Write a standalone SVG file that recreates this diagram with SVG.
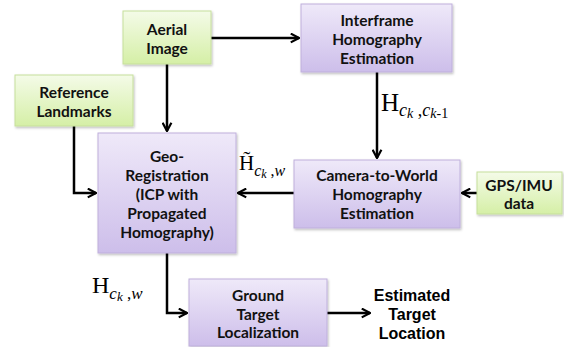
<svg xmlns="http://www.w3.org/2000/svg" width="564" height="347" viewBox="0 0 564 347">
<defs>
<linearGradient id="gp" x1="0" y1="0" x2="0" y2="1"><stop offset="0" stop-color="#efe9f9"/><stop offset="1" stop-color="#cdbeea"/></linearGradient>
<linearGradient id="gg" x1="0" y1="0" x2="0" y2="1"><stop offset="0" stop-color="#f4fbe8"/><stop offset="1" stop-color="#d5efa6"/></linearGradient>
<filter id="sh" x="-5%" y="-5%" width="115%" height="120%"><feDropShadow dx="1" dy="1.5" stdDeviation="1" flood-color="#000" flood-opacity="0.25"/></filter>
<marker id="ah" viewBox="0 0 10 10" refX="9" refY="5" markerWidth="4.4" markerHeight="4.4" orient="auto" markerUnits="strokeWidth"><path d="M1.5,1 L9,5 L1.5,9" fill="none" stroke="#000" stroke-width="2"/></marker>
</defs>
<style>
.p{fill:url(#gp);stroke:#bfb0dc;stroke-width:1;filter:url(#sh)}
.g{fill:url(#gg);stroke:#c6df9c;stroke-width:1;filter:url(#sh)}
.t{font-family:Lato,"Open Sans",sans-serif;font-weight:bold;font-size:15.5px;fill:#111;text-anchor:middle}
.a{font-family:"Liberation Sans",Arial,sans-serif;font-weight:bold;font-size:16px;fill:#000;text-anchor:middle}
.c{fill:none;stroke:#000;stroke-width:2.5;marker-end:url(#ah)}
.m{font-family:"Liberation Serif","Times New Roman",serif;fill:#000}
.i{font-style:italic}
</style>
<rect width="564" height="347" fill="#fff"/>
<g id="connectors">
<path class="c" d="M211,38 H299"/>
<path class="c" d="M167,64 V131"/>
<path class="c" d="M74,126 V193 H96"/>
<path class="c" d="M377,72 V158"/>
<path class="c" d="M294,193 H238"/>
<path class="c" d="M477,193 H462"/>
<path class="c" d="M167,253 V313 H187"/>
<path class="c" d="M327,313 H370"/>
</g>
<g id="aerial"><rect class="g" x="123" y="11" width="88" height="53"/><text class="t" x="167" y="35">Aerial</text><text class="t" x="167" y="54">Image</text></g>
<g id="reference"><rect class="g" x="15" y="75" width="118" height="51"/><text class="t" x="74" y="98">Reference</text><text class="t" x="74" y="117">Landmarks</text></g>
<g id="interframe"><rect class="p" x="301" y="4" width="151" height="68"/><text class="t" x="377" y="26">Interframe</text><text class="t" x="377" y="45">Homography</text><text class="t" x="377" y="64">Estimation</text></g>
<g id="georeg"><rect class="p" x="98" y="133" width="138" height="120"/><text class="t" x="167" y="162">Geo-</text><text class="t" x="167" y="181">Registration</text><text class="t" x="167" y="200">(ICP with</text><text class="t" x="167" y="219">Propagated</text><text class="t" x="167" y="238">Homography)</text></g>
<g id="camera"><rect class="p" x="294" y="160" width="166" height="68"/><text class="t" x="377" y="181">Camera-to-World</text><text class="t" x="377" y="200">Homography</text><text class="t" x="377" y="219">Estimation</text></g>
<g id="gps"><rect class="g" x="477" y="172" width="85" height="42"/><text class="t" x="519" y="191">GPS/IMU</text><text class="t" x="519" y="209">data</text></g>
<g id="ground"><rect class="p" x="189" y="279" width="138" height="67"/><text class="t" x="258" y="301">Ground</text><text class="t" x="258" y="320">Target</text><text class="t" x="258" y="338">Localization</text></g>
<g id="estimated"><text class="a" x="412" y="301">Estimated</text><text class="a" x="412" y="320">Target</text><text class="a" x="412" y="339">Location</text></g>
<g id="labels">
<text class="m" x="381" y="111" font-size="25">H<tspan class="i" font-size="18" dy="5">c</tspan><tspan class="i" font-size="14" dy="2">k</tspan><tspan font-size="18" dy="-2"> ,</tspan><tspan class="i" font-size="18">c</tspan><tspan class="i" font-size="14" dy="2">k</tspan><tspan font-size="14">-1</tspan></text>
<text class="m" x="239" y="170" font-size="21">H̃<tspan class="i" font-size="16" dy="6">c</tspan><tspan class="i" font-size="12" dy="2">k</tspan><tspan font-size="16" dy="-2"> ,</tspan><tspan class="i" font-size="16">w</tspan></text>
<text class="m" x="92" y="293" font-size="24">H<tspan class="i" font-size="17" dy="6">c</tspan><tspan class="i" font-size="13" dy="2">k</tspan><tspan font-size="17" dy="-2"> ,</tspan><tspan class="i" font-size="17">w</tspan></text>
</g>
</svg>
